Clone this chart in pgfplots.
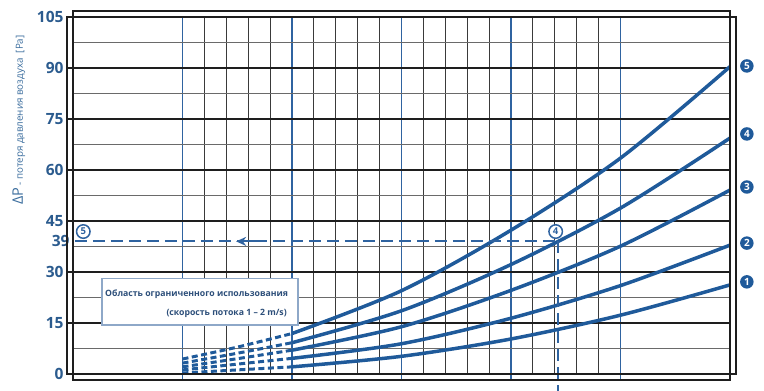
\documentclass[border=0pt]{standalone}
\usepackage{fontspec}
\setmainfont{Open Sans}
\usepackage{pgfplots}
\pgfplotsset{compat=1.18}
\usetikzlibrary{arrows.meta}
\definecolor{cblue}{HTML}{1F5A9A}
\definecolor{tblue}{HTML}{2B5B8E}
\definecolor{lblue}{HTML}{3C6E9E}
\definecolor{gdark}{HTML}{1E1E1E}
\definecolor{glight}{HTML}{6A6A6A}
\definecolor{vgrid}{HTML}{3A3A3A}
\definecolor{boxblue}{HTML}{8EA8C8}
\definecolor{vblue}{HTML}{2F63A0}
\definecolor{btext}{HTML}{2D4F7A}
\tikzset{numdot/.style={circle, fill=cblue, inner sep=0pt, minimum size=13.5pt, text=white, font=\bfseries\fontsize{10}{10}\selectfont},
  numring/.style={circle, draw=vblue, line width=1.5pt, fill=white, inner sep=0pt, minimum size=13.5pt, text=vblue, font=\bfseries\fontsize{9.5}{10}\selectfont}}
\begin{document}
\begin{tikzpicture}
\path[use as bounding box] (-73pt,-17pt) rectangle (691pt,374pt);
\begin{axis}[
  at={(0pt,0pt)}, anchor=south west,
  scale only axis, width=657pt, height=357pt,
  xmin=0, xmax=30, ymin=0, ymax=105,
  xtick={5,10,...,25}, xticklabels={}, minor x tick num=4,
  ytick={0,15,...,105}, minor y tick num=1,
  extra y ticks={39}, extra y tick style={grid=none, major tick length=0pt},
  grid=both,
  major x grid style={vblue, line width=1.15pt},
  minor x grid style={vgrid, line width=1.15pt},
  major y grid style={gdark, line width=1.2pt},
  minor y grid style={glight, line width=1.2pt},
  tick align=outside, xtick pos=bottom, ytick pos=left,
  major tick length=6pt, minor tick length=0pt,
  ytick style={gdark, line width=1.2pt},
  xtick style={vblue, line width=1.2pt},
  /pgf/number format/assume math mode=true,
  yticklabel style={font=\bfseries\fontsize{15.5}{16}\selectfont, text=tblue},
  axis line style={gdark, line width=1.5pt},
  clip=false,
]
% curves: dashed part (low-flow region)
\addplot[cblue, line width=3pt, smooth, dash pattern=on 6pt off 3.5pt] coordinates {(5,4.4)(7.5,7.9)(10,11.9)};
\addplot[cblue, line width=3pt, smooth, dash pattern=on 6pt off 3.5pt] coordinates {(5,3.2)(7.5,6.1)(10,9.2)};
\addplot[cblue, line width=3pt, smooth, dash pattern=on 6pt off 3.5pt] coordinates {(5,2.1)(7.5,4.5)(10,7.0)};
\addplot[cblue, line width=3pt, smooth, dash pattern=on 6pt off 3.5pt] coordinates {(5,1.2)(7.5,2.9)(10,4.6)};
\addplot[cblue, line width=3pt, smooth, dash pattern=on 6pt off 3.5pt] coordinates {(5,0.3)(7.5,1.2)(10,2.1)};
% curves: solid part
\addplot[cblue, line width=3.5pt, smooth] coordinates {(10,11.9)(15,24.5)(20,42.3)(25,63.5)(30,90.4)};
\addplot[cblue, line width=3.5pt, smooth] coordinates {(10,9.2)(15,18.6)(20,32.2)(25,48.8)(30,69.4)};
\addplot[cblue, line width=3.5pt, smooth] coordinates {(10,7.0)(15,13.9)(20,24.6)(25,37.6)(30,54.1)};
\addplot[cblue, line width=3.5pt, smooth] coordinates {(10,4.6)(15,8.9)(20,16.4)(25,26.0)(30,37.9)};
\addplot[cblue, line width=3.5pt, smooth] coordinates {(10,2.1)(15,5.2)(20,10.3)(25,17.3)(30,26.2)};
% reading example
\addplot[vblue, line width=2pt, dash pattern=on 12pt off 6pt] coordinates {(0.08,39)(22.13,39)};
\addplot[vblue, line width=2pt, dash pattern=on 12pt off 6pt] coordinates {(22.13,39)(22.13,-5)};
\draw[vblue, line width=2pt, -{Stealth[length=10pt,width=9pt]}] (axis cs:8.3,39) -- (axis cs:7.45,39);
\node[numring] at (axis cs:0.47,41.9) {5};
\node[numring] at (axis cs:22.04,41.9) {4};
% box
\draw[boxblue, line width=1.2pt, fill=white] (axis cs:1.32,14.4) rectangle (axis cs:10.27,28.2);
\node[anchor=base west, inner sep=0pt, text=btext, font=\bfseries\fontsize{8.7}{9}\selectfont] at (axis cs:1.46,22.9) {Область ограниченного использования};
\node[anchor=base east, inner sep=0pt, text=btext, font=\bfseries\fontsize{8.7}{9}\selectfont] at (axis cs:9.77,17.1) {(скорость потока 1 – 2 m/s)};
% right labels
\node[numdot] at (axis cs:30.77,90.6) {5};
\node[numdot] at (axis cs:30.77,70.6) {4};
\node[numdot] at (axis cs:30.77,55.0) {3};
\node[numdot] at (axis cs:30.77,38.5) {2};
\node[numdot] at (axis cs:30.77,27.1) {1};
\end{axis}
\draw[gdark, line width=1.5pt] (-6pt,0pt) rectangle (663pt,357pt);
\draw[gdark, line width=1.5pt] (0pt,-6pt) rectangle (657pt,363pt);
\node[rotate=90, anchor=base west, inner sep=0pt, text=lblue] at (-50pt,169pt) {\fontsize{14.5}{14}\selectfont ΔP\,\fontsize{9.8}{10}\selectfont- потеря давления воздуха\ \ [Pa]};
\end{tikzpicture}
\end{document}
